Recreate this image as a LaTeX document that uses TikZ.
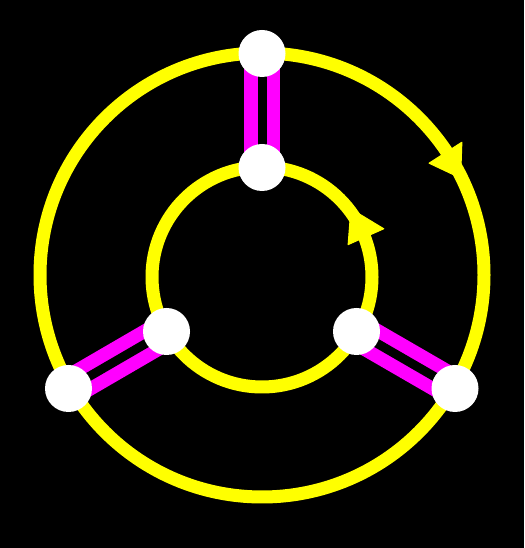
\documentclass[tikz,border=0pt]{standalone}
\definecolor{ringyellow}{RGB}{255,255,0}
\definecolor{spokemag}{RGB}{255,0,255}
\begin{document}
\begin{tikzpicture}[x=1pt,y=1pt,
  ring/.style={draw=ringyellow,line width=13pt},
  spoke/.style={draw=spokemag,line width=13.5pt,double=black,double distance=9pt},
  headfill/.style={fill=ringyellow,draw=ringyellow,line width=1pt,line join=round},
  dot/.style={circle,fill=white,inner sep=0pt,minimum size=47pt}]
\fill[black] (0,0) rectangle (524,548);
\useasboundingbox (0,0) rectangle (524,548);
\coordinate (oc) at (262,273);
\coordinate (ic) at (262,271);
\coordinate (o1) at (262,494.5);
\coordinate (o2) at (68.5,159.5);
\coordinate (o3) at (455,159.5);
\coordinate (i1) at (262,380.5);
\coordinate (i2) at (166.5,216.5);
\coordinate (i3) at (356.5,216.5);
\draw[ring] (oc) circle[radius=222pt];
\draw[ring] (ic) circle[radius=110pt];
\fill[headfill] (oc) +(26:221pt) -- +(33.6:240pt) -- +(33.8:201pt) -- cycle;
\fill[headfill] (ic) +(37.5:112pt) -- +(21.6:131pt) -- +(20.6:92pt) -- cycle;
\draw[spoke] (i1) -- (o1);
\draw[spoke] (i2) -- (o2);
\draw[spoke] (i3) -- (o3);
\node[dot] (n1) at (o1) {};
\node[dot] (n2) at (o2) {};
\node[dot] (n3) at (o3) {};
\node[dot] (m1) at (i1) {};
\node[dot] (m2) at (i2) {};
\node[dot] (m3) at (i3) {};
\end{tikzpicture}
\end{document}
